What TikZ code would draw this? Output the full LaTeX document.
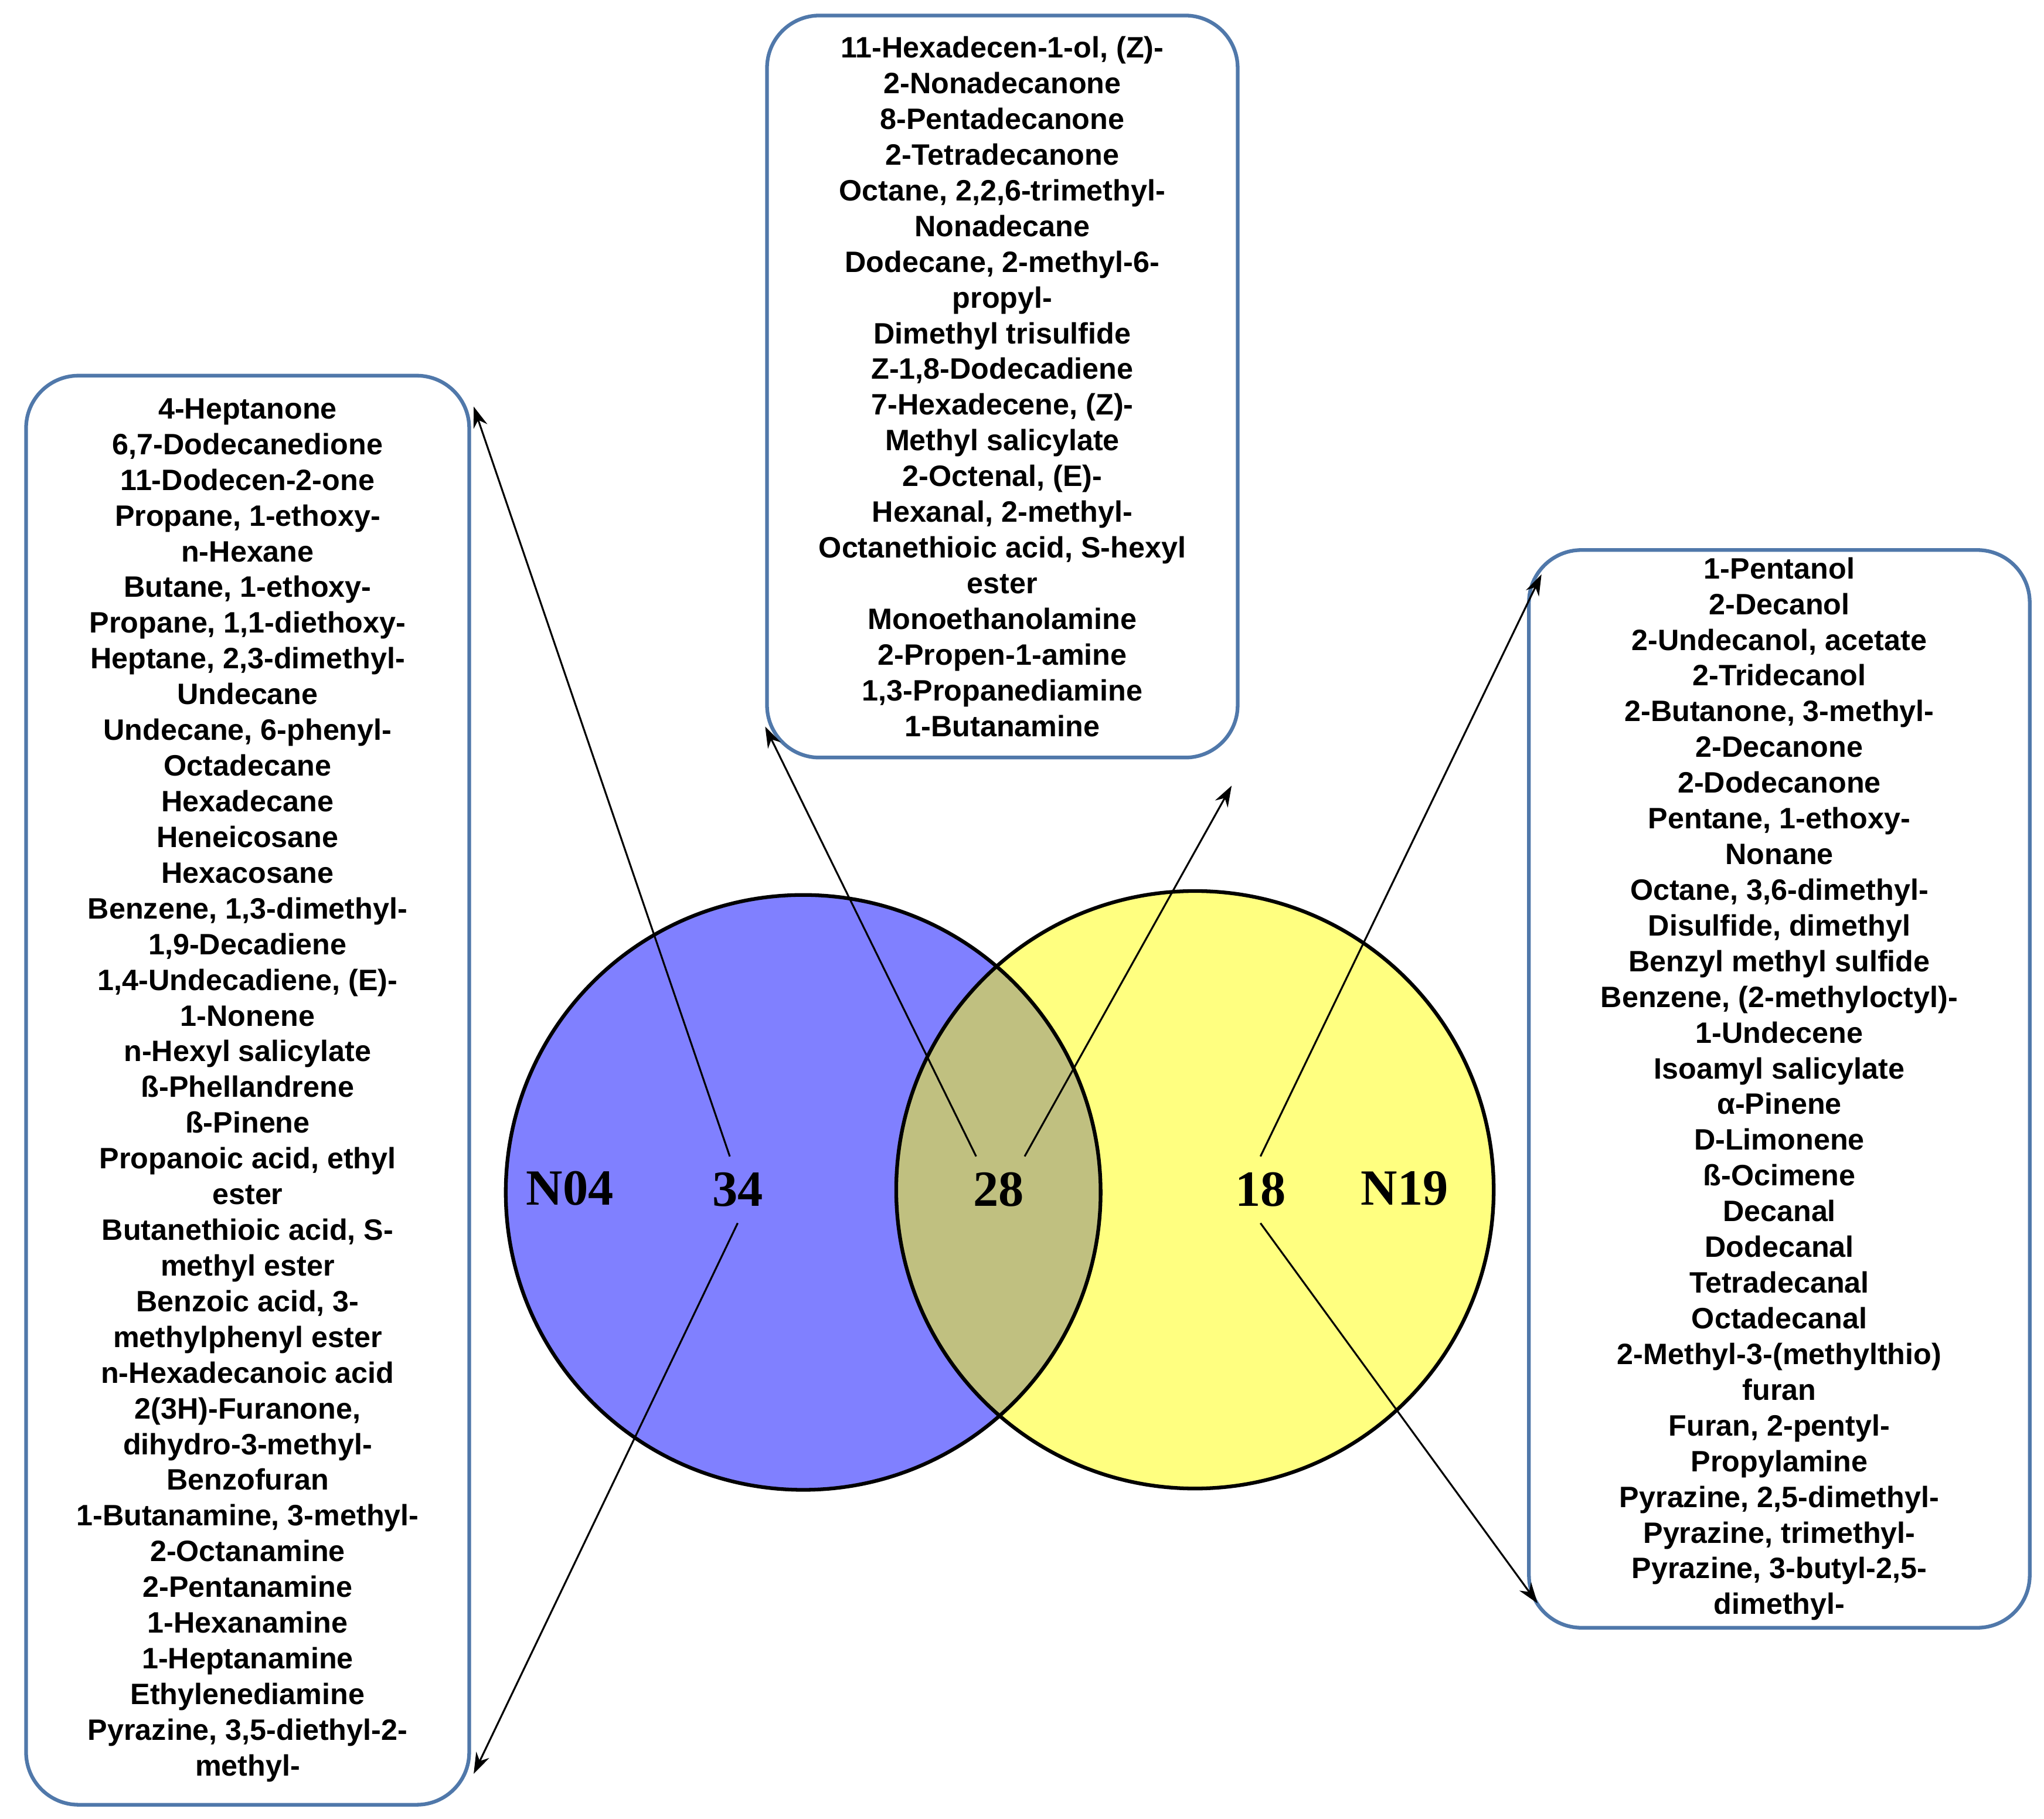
\documentclass[tikz,border=0pt]{standalone}
\usepackage{fontspec}
\setmainfont{Liberation Sans}
\newfontfamily\serifnum{Liberation Serif}
\usetikzlibrary{arrows.meta,calc}
\definecolor{setblue}{RGB}{128,128,255}
\definecolor{setyellow}{RGB}{255,255,128}
\definecolor{setboth}{RGB}{192,192,128}
\definecolor{boxline}{RGB}{80,120,170}
\begin{document}
\begin{tikzpicture}[
        x=0.01cm, y=-0.01cm,
        list box/.style={
            rectangle,
            rounded corners=4mm,
            draw=boxline,
            thick,
            inner sep=0pt,
            align=center,
            font=\fontsize{6.4}{7.75}\selectfont\bfseries
        },
        set label/.style={font=\fontsize{11}{13}\selectfont\serifnum\bfseries},
        pointer/.style={-{Stealth[length=1.6mm,width=1.1mm]}, thin}
    ]
        \useasboundingbox (0,0) rectangle (1560,1388);

        % --- circles ---
        \fill[setblue] (613,910) circle (227);
        \fill[setyellow] (912,908) circle (228);
        \begin{scope}
            \clip (613,910) circle (227);
            \fill[setboth] (912,908) circle (228);
        \end{scope}
        \draw[thick] (613,910) circle (227);
        \draw[thick] (912,908) circle (228);

        % --- labels ---
        \node[set label] (n04) at (435,907) {N04};
        \node[set label] (n19) at (1072,907) {N19};
        \node[set label] (only04) at (563,908) {34};
        \node[set label] (shared) at (762,908) {28};
        \node[set label] (only19) at (962,908) {18};

        % --- lists ---
        \node[list box, minimum width=3.38cm, minimum height=10.9cm] (list04) at (189,832) {%
            4-Heptanone\\6,7-Dodecanedione\\11-Dodecen-2-one\\Propane, 1-ethoxy-\\n-Hexane\\Butane, 1-ethoxy-\\Propane, 1,1-diethoxy-\\Heptane, 2,3-dimethyl-\\Undecane\\Undecane, 6-phenyl-\\Octadecane\\Hexadecane\\Heneicosane\\Hexacosane\\Benzene, 1,3-dimethyl-\\1,9-Decadiene\\1,4-Undecadiene, (E)-\\1-Nonene\\n-Hexyl salicylate\\ß-Phellandrene\\ß-Pinene\\Propanoic acid, ethyl\\ester\\Butanethioic acid, S-\\methyl ester\\Benzoic acid, 3-\\methylphenyl ester\\n-Hexadecanoic acid\\2(3H)-Furanone,\\dihydro-3-methyl-\\Benzofuran\\1-Butanamine, 3-methyl-\\2-Octanamine\\2-Pentanamine\\1-Hexanamine\\1-Heptanamine\\Ethylenediamine\\Pyrazine, 3,5-diethyl-2-\\methyl-};
        \node[list box, minimum width=3.59cm, minimum height=5.66cm] (listboth) at (765,295) {%
            11-Hexadecen-1-ol, (Z)-\\2-Nonadecanone\\8-Pentadecanone\\2-Tetradecanone\\Octane, 2,2,6-trimethyl-\\Nonadecane\\Dodecane, 2-methyl-6-\\propyl-\\Dimethyl trisulfide\\Z-1,8-Dodecadiene\\7-Hexadecene, (Z)-\\Methyl salicylate\\2-Octenal, (E)-\\Hexanal, 2-methyl-\\Octanethioic acid,  S-hexyl\\ester\\Monoethanolamine\\2-Propen-1-amine\\1,3-Propanediamine\\1-Butanamine};
        \node[list box, minimum width=3.82cm, minimum height=8.22cm] (list19) at (1358,831) {%
            1-Pentanol\\2-Decanol\\2-Undecanol, acetate\\2-Tridecanol\\2-Butanone, 3-methyl-\\2-Decanone\\2-Dodecanone\\Pentane, 1-ethoxy-\\Nonane\\Octane, 3,6-dimethyl-\\Disulfide, dimethyl\\Benzyl methyl sulfide\\Benzene, (2-methyloctyl)-\\1-Undecene\\Isoamyl salicylate\\α-Pinene\\D-Limonene\\ß-Ocimene\\Decanal\\Dodecanal\\Tetradecanal\\Octadecanal\\2-Methyl-3-(methylthio)\\furan\\Furan, 2-pentyl-\\Propylamine\\Pyrazine, 2,5-dimethyl-\\Pyrazine, trimethyl-\\Pyrazine, 3-butyl-2,5-\\dimethyl-};

        % --- pointers ---
        \draw[pointer] ([xshift=-0.06cm]only04.north) -- ([xshift=0.02cm,yshift=-0.25cm]list04.north east);
        \draw[pointer] (only04.south) -- ([xshift=0.02cm,yshift=0.25cm]list04.south east);
        \draw[pointer] ([xshift=-0.17cm]shared.north) -- ([xshift=0.0cm,yshift=0.25cm]listboth.south west);
        \draw[pointer] ([xshift=0.2cm]shared.north) -- ([xshift=-0.06cm,yshift=-0.2cm]listboth.south east);
        \draw[pointer] (only19.north) -- ([xshift=0.11cm,yshift=-0.2cm]list19.north west);
        \draw[pointer] (only19.south) -- ([xshift=0.08cm,yshift=0.2cm]list19.south west);
    \end{tikzpicture}
\end{document}
